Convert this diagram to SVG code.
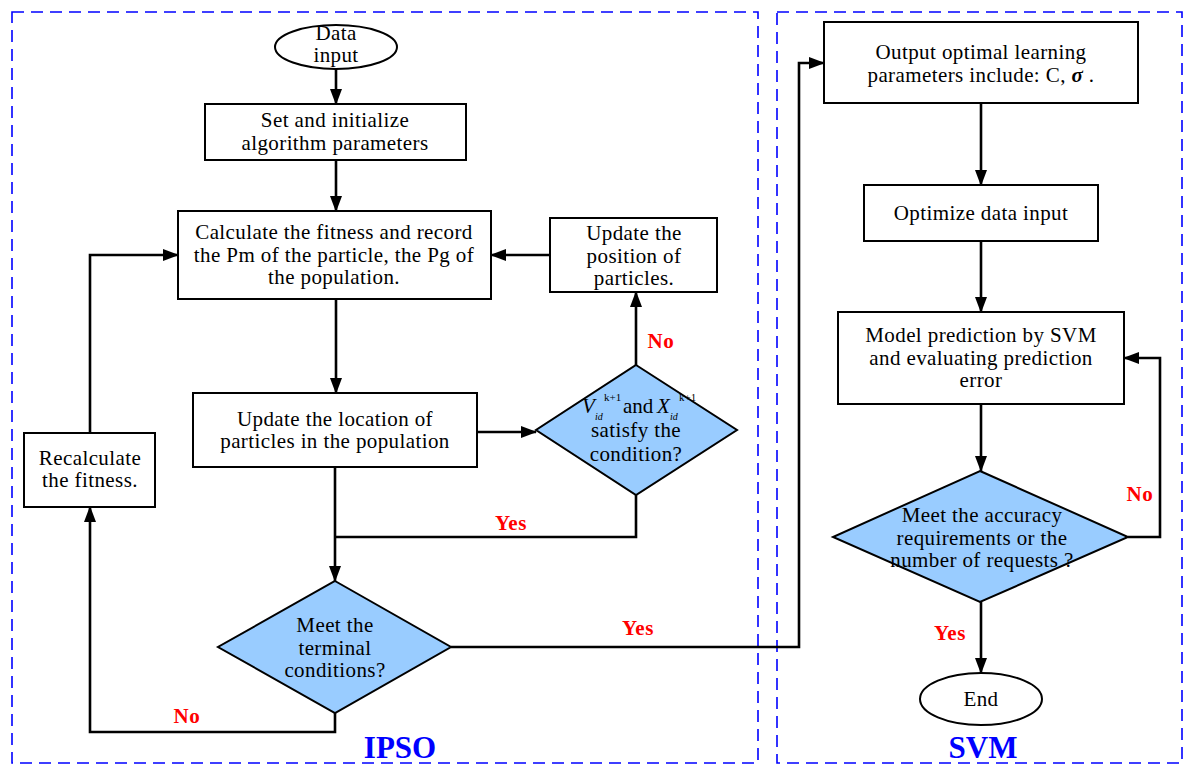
<svg xmlns="http://www.w3.org/2000/svg" width="1184" height="765" viewBox="0 0 1184 765">
<style>
.box{fill:#fff;stroke:#000;stroke-width:2}
.dia{fill:#99CCFF;stroke:#000;stroke-width:2}
.t{font-family:"Liberation Serif","Times New Roman",serif;font-size:21px;letter-spacing:0.4px;fill:#000;text-anchor:middle}
.s{font-family:"Liberation Serif","Times New Roman",serif;fill:#000;text-anchor:start}
.lab{font-family:"Liberation Serif","Times New Roman",serif;font-size:21px;font-weight:bold;letter-spacing:0.6px;fill:#FF0000;text-anchor:middle}
.sec{font-family:"Liberation Serif","Times New Roman",serif;font-size:31px;font-weight:bold;fill:#0000FF;text-anchor:middle}
.frame{fill:none;stroke:#0000FF;stroke-width:1.6;stroke-dasharray:12,7}
.c{fill:none;stroke:#000;stroke-width:2.6}
</style>
<defs>
<marker id="ah" markerWidth="16" markerHeight="12" refX="15" refY="6" orient="auto" markerUnits="userSpaceOnUse">
<path d="M0,0 L16,6 L0,12 Z" fill="#000"/>
</marker>
</defs>
<rect width="1184" height="765" fill="#fff"/>
<g id="frames">
<rect class="frame" x="12" y="12" width="746" height="751"/>
<rect class="frame" x="777" y="12" width="405" height="751"/>
</g>
<g id="connectors">
<path class="c" d="M336,69 V104" marker-end="url(#ah)"/>
<path class="c" d="M336,160 V211" marker-end="url(#ah)"/>
<path class="c" d="M336,299 V393" marker-end="url(#ah)"/>
<path class="c" d="M477,432 H536" marker-end="url(#ah)"/>
<path class="c" d="M636,365 V292" marker-end="url(#ah)"/>
<path class="c" d="M550,255 H491" marker-end="url(#ah)"/>
<path class="c" d="M636,495 V537 H335"/>
<path class="c" d="M335,467 V581" marker-end="url(#ah)"/>
<path class="c" d="M335,713 V732 H90 V507" marker-end="url(#ah)"/>
<path class="c" d="M90,433 V255 H178" marker-end="url(#ah)"/>
<path class="c" d="M451,647 H799 V63 H824" marker-end="url(#ah)"/>
<path class="c" d="M981,103 V185" marker-end="url(#ah)"/>
<path class="c" d="M981,241 V312" marker-end="url(#ah)"/>
<path class="c" d="M981,404 V471" marker-end="url(#ah)"/>
<path class="c" d="M1128,537 H1160 V358 H1124" marker-end="url(#ah)"/>
<path class="c" d="M981,602 V673" marker-end="url(#ah)"/>
<text class="lab" x="661" y="348">No</text>
<text class="lab" x="511" y="530">Yes</text>
<text class="lab" x="187" y="723">No</text>
<text class="lab" x="638" y="635">Yes</text>
<text class="lab" x="1140" y="501">No</text>
<text class="lab" x="950" y="640">Yes</text>
</g>
<g id="data-input">
<ellipse class="box" cx="336" cy="47" rx="61" ry="22"/>
<text class="t" x="336" y="40" font-size="18">Data</text>
<text class="t" x="336" y="62" font-size="18">input</text>
</g>
<g id="set-init">
<rect class="box" x="205" y="104" width="261" height="56"/>
<text class="t" x="335" y="127">Set and initialize</text>
<text class="t" x="335" y="150">algorithm parameters</text>
</g>
<g id="calc-fitness">
<rect class="box" x="178" y="211" width="313" height="88"/>
<text class="t" x="334" y="239">Calculate the fitness and record</text>
<text class="t" x="334" y="262">the Pm of the particle, the Pg of</text>
<text class="t" x="334" y="284">the population.</text>
</g>
<g id="update-position">
<rect class="box" x="550" y="218" width="167" height="74"/>
<text class="t" x="634" y="240">Update the</text>
<text class="t" x="634" y="263">position of</text>
<text class="t" x="634" y="285">particles.</text>
</g>
<g id="update-location">
<rect class="box" x="193" y="393" width="284" height="74"/>
<text class="t" x="335" y="426">Update the location of</text>
<text class="t" x="335" y="448">particles in the population</text>
</g>
<g id="satisfy-condition">
<polygon class="dia" points="636,365 737,430 636,495 536,430"/>
<text class="s" font-size="21"><tspan x="582" y="413" font-style="italic">V</tspan><tspan x="595" y="420" font-size="10" font-style="italic">id</tspan><tspan x="604" y="401" font-size="11">k+1</tspan><tspan x="623" y="413">and</tspan><tspan x="657" y="413" font-style="italic">X</tspan><tspan x="670" y="420" font-size="10" font-style="italic">id</tspan><tspan x="679" y="401" font-size="11">k+1</tspan></text>
<text class="t" x="636" y="437">satisfy the</text>
<text class="t" x="636" y="461">condition?</text>
</g>
<g id="recalculate">
<rect class="box" x="24" y="433" width="131" height="74"/>
<text class="t" x="90" y="465">Recalculate</text>
<text class="t" x="90" y="487">the fitness.</text>
</g>
<g id="terminal">
<polygon class="dia" points="335,581 451,647 335,713 218,647"/>
<text class="t" x="335" y="632">Meet the</text>
<text class="t" x="335" y="655">terminal</text>
<text class="t" x="335" y="677">conditions?</text>
</g>
<g id="output">
<rect class="box" x="824" y="22" width="314" height="81"/>
<text class="t" x="981" y="59">Output optimal learning</text>
<text class="t" x="981" y="82">parameters include:  C, <tspan font-weight="bold" font-style="italic">σ</tspan> .</text>
</g>
<g id="optimize">
<rect class="box" x="864" y="185" width="234" height="56"/>
<text class="t" x="981" y="220">Optimize data input</text>
</g>
<g id="model">
<rect class="box" x="838" y="312" width="286" height="92"/>
<text class="t" x="981" y="342">Model prediction by SVM</text>
<text class="t" x="981" y="365">and evaluating prediction</text>
<text class="t" x="981" y="387">error</text>
</g>
<g id="accuracy">
<polygon class="dia" points="980,471 1128,537 980,602 833,537"/>
<text class="t" x="982" y="522">Meet the accuracy</text>
<text class="t" x="982" y="545">requirements or the</text>
<text class="t" x="982" y="567">number of requests ?</text>
</g>
<g id="end">
<ellipse class="box" cx="981" cy="699" rx="61" ry="26"/>
<text class="t" x="981" y="706">End</text>
</g>
<g id="sections">
<text class="sec" x="400" y="758">IPSO</text>
<text class="sec" x="983" y="758">SVM</text>
</g>
</svg>
